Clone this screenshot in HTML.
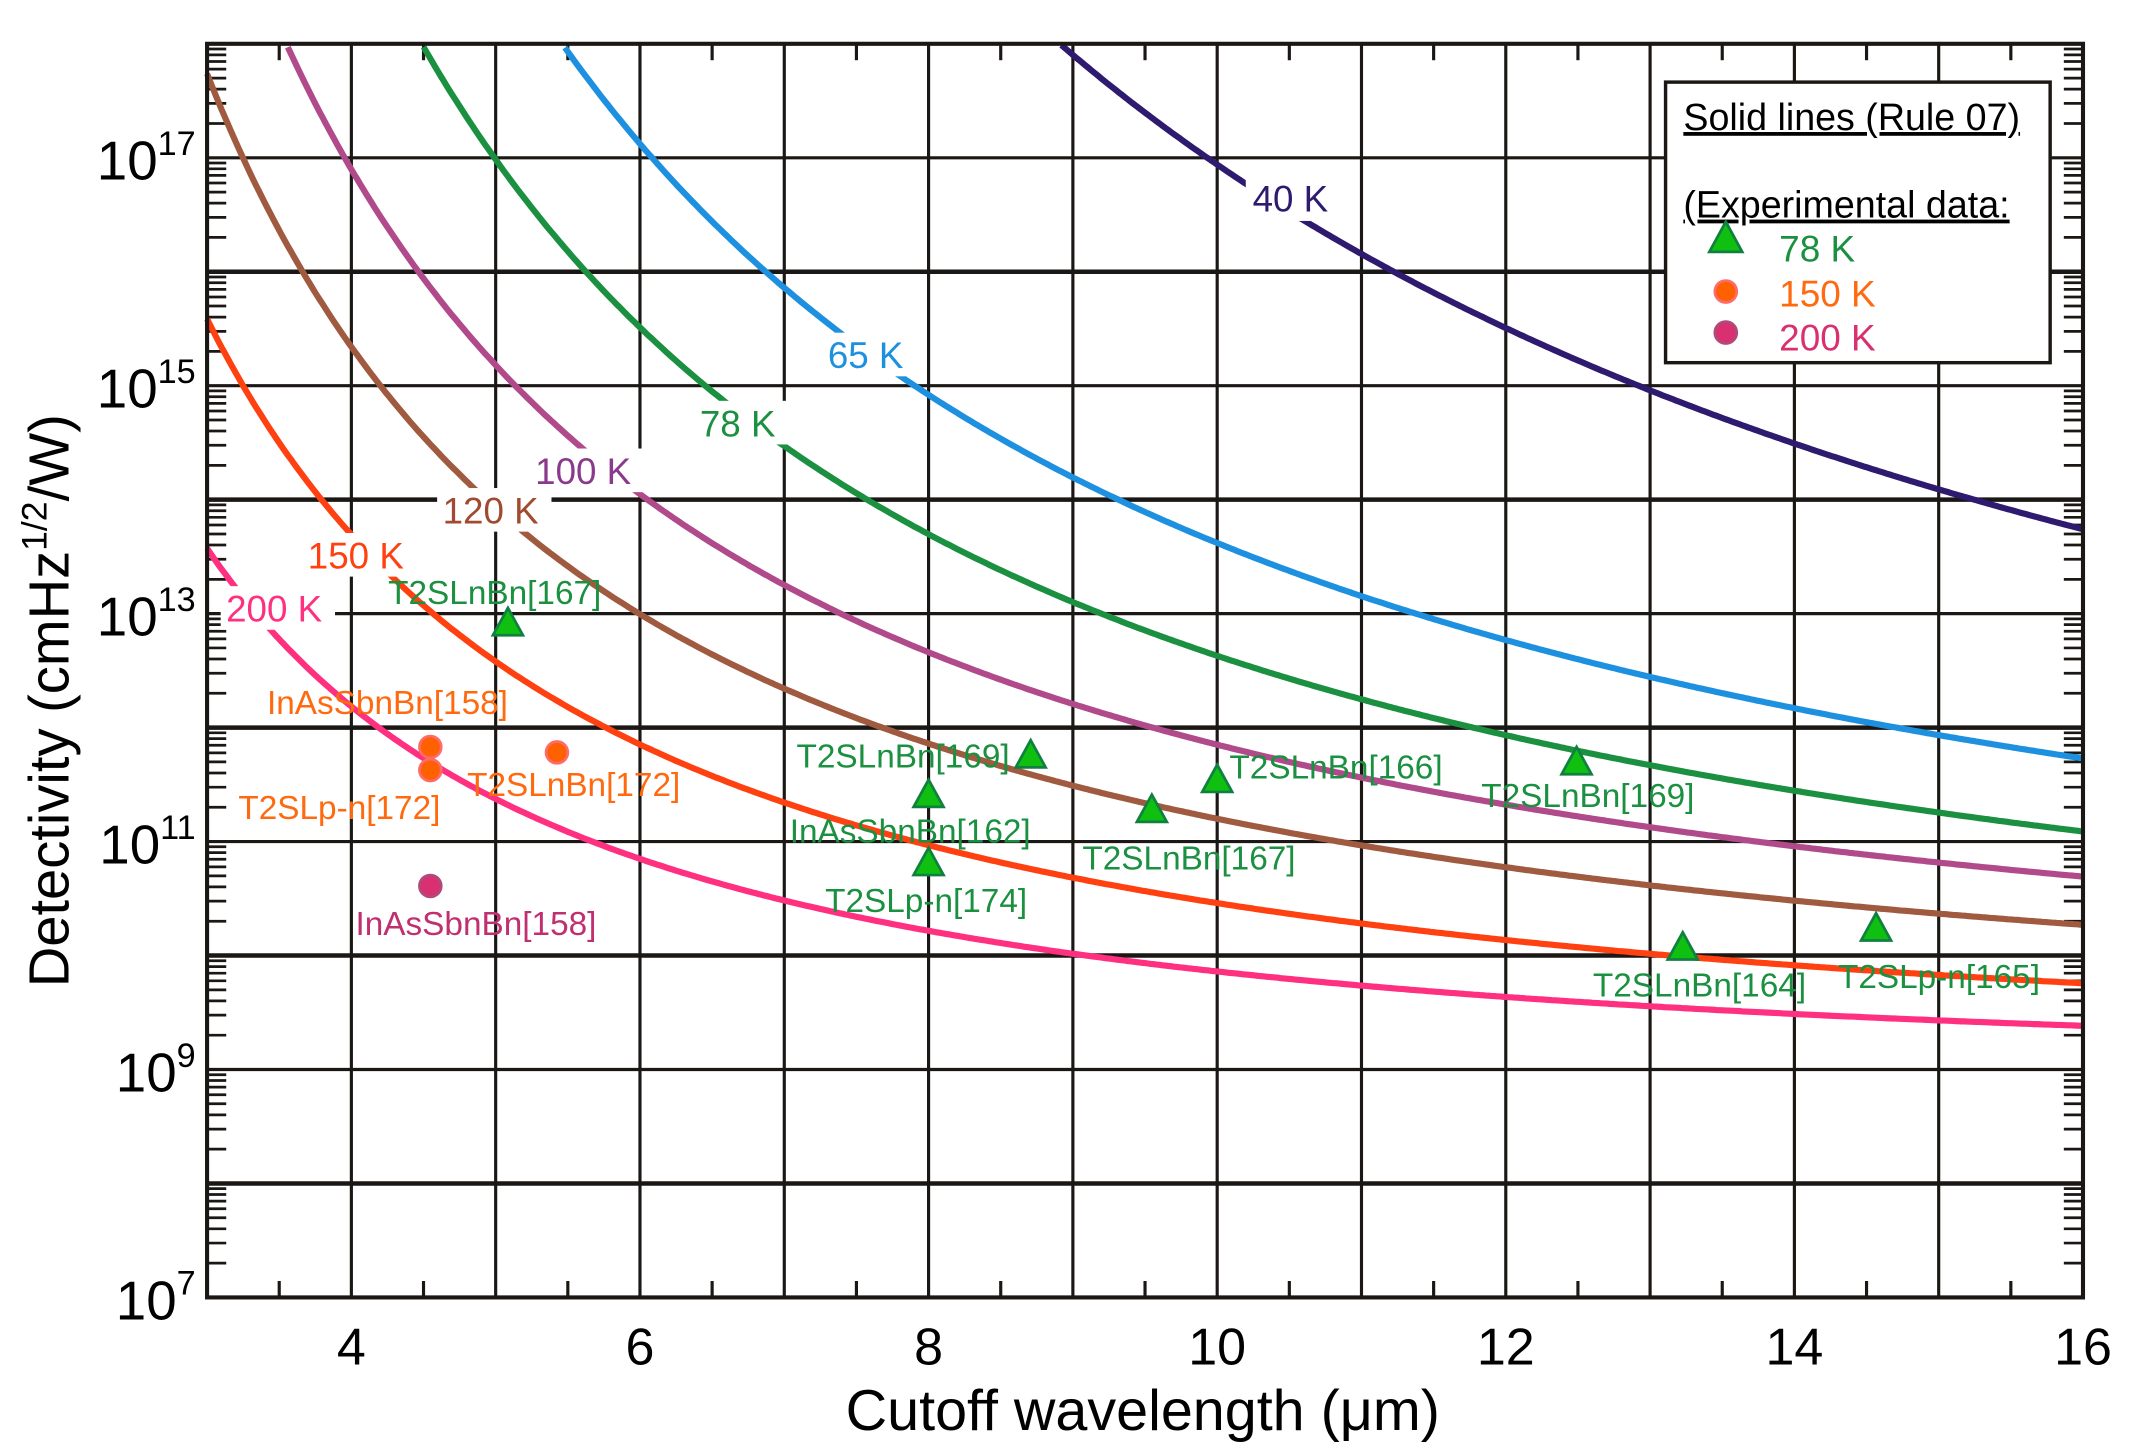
<!DOCTYPE html>
<html><head><meta charset="utf-8"><style>html,body{margin:0;padding:0;background:#fff}svg{display:block}</style></head>
<body>
<svg id="s" width="2135" height="1454" viewBox="0 0 1560 1062.4" preserveAspectRatio="none" xmlns="http://www.w3.org/2000/svg" font-family="Liberation Sans, Arial, sans-serif">
<rect width="1560" height="1063" fill="#fff"/>
<g id="grid" stroke="#1a1714"></g>
<g id="curves" fill="none" stroke-width="4.5"></g>
<g transform="translate(151.3,32) scale(0.9947,0.9957) translate(-152,-32)">
<g id="labels" font-size="27">
 <rect x="915" y="130" width="70" height="32" fill="#fff"/><text x="920" y="155" fill="#2e1a6e">40 K</text>
 <rect x="603" y="244" width="72" height="32" fill="#fff"/><text x="608" y="270" fill="#1e90e0">65 K</text>
 <rect x="510" y="294" width="70" height="32" fill="#fff"/><text x="514" y="320" fill="#1a9040">78 K</text>
 <rect x="389" y="329" width="84" height="32" fill="#fff"/><text x="393" y="355" fill="#8a3a8a">100 K</text>
 <rect x="321" y="358" width="84" height="32" fill="#fff"/><text x="325" y="384" fill="#a04a30">120 K</text>
 <rect x="222" y="391" width="84" height="32" fill="#fff"/><text x="226" y="417" fill="#ff4010">150 K</text>
 <rect x="162" y="430" width="84" height="32" fill="#fff"/><text x="166" y="456" fill="#ff3080">200 K</text>
</g>
<g id="pts"></g>
<g font-size="24.5" fill="#1a9040">
 <text x="285" y="443">T2SLnBn[167]</text>
 <text x="585" y="563">T2SLnBn[169]</text>
 <text x="580" y="618">InAsSbnBn[162]</text>
 <text x="606" y="669">T2SLp-n[174]</text>
 <text x="795" y="638">T2SLnBn[167]</text>
 <text x="903" y="571">T2SLnBn[166]</text>
 <text x="1088" y="592">T2SLnBn[169]</text>
 <text x="1170" y="731">T2SLnBn[164]</text>
 <text x="1350" y="725">T2SLp-n[165]</text>
</g>
<g font-size="24.5" fill="#ff6a10">
 <text x="196" y="524">InAsSbnBn[158]</text>
 <text x="175" y="601">T2SLp-n[172]</text>
 <text x="343" y="584">T2SLnBn[172]</text>
</g>
<text x="261" y="686" font-size="24.5" fill="#c03070">InAsSbnBn[158]</text>
</g>
<g>
 <rect x="1217" y="60" width="281" height="205" fill="#fff" stroke="#1a1714" stroke-width="2.5"/>
 <text x="1230" y="95" font-size="27.5" text-decoration="underline">Solid lines (Rule 07)</text>
 <text x="1230" y="159" font-size="27.5" text-decoration="underline">(Experimental data:</text>
 <polygon points="1261,162 1273,184 1249,184" fill="#10c010" stroke="#108040" stroke-width="2"/>
 <text x="1300" y="191" font-size="27" fill="#1a9040">78 K</text>
 <circle cx="1261" cy="213" r="8" fill="#ff6000" stroke="#ff6a6a" stroke-width="2"/>
 <text x="1300" y="224" font-size="27" fill="#ff6a10">150 K</text>
 <circle cx="1261" cy="243" r="8" fill="#d83070" stroke="#b04a7a" stroke-width="2"/>
 <text x="1300" y="256" font-size="27" fill="#d83070">200 K</text>
</g>
<g id="ax"></g>
<text x="835" y="1045" font-size="42" text-anchor="middle">Cutoff wavelength (μm)</text>
<text transform="translate(50,512) rotate(-90)" font-size="41" text-anchor="middle">Detectivity (cmHz<tspan font-size="26" dy="-16">1/2</tspan><tspan dy="16">/W)</tspan></text>
<rect x="151.3" y="32" width="1370.7" height="916" fill="none" stroke="#1a1714" stroke-width="3"/>
</svg>
<script>
var NS="http://www.w3.org/2000/svg";
var X0=151.3,X1=1522,Y0=948,YT=32;
function px(l){return X0+(l-3)*(X1-X0)/13;}
function py(d){return Y0-(d-7)*(Y0-YT)/11;}
function el(p,t,a){var e=document.createElementNS(NS,t);for(var k in a)e.setAttribute(k,a[k]);p.appendChild(e);return e;}
var g=document.getElementById('grid');
for(var l=4;l<16;l++)el(g,'line',{x1:px(l),x2:px(l),y1:YT,y2:Y0,'stroke-width':2.3});
for(var d=8;d<18;d++)el(g,'line',{x1:X0,x2:X1,y1:py(d),y2:py(d),'stroke-width':(d%2==0)?3.3:2.3});
for(var d=7;d<18;d++)for(var m=2;m<10;m++){var y=py(d+Math.log10(m));
 el(g,'line',{x1:X0,x2:X0+14,y1:y,y2:y,'stroke-width':2});el(g,'line',{x1:X1-14,x2:X1,y1:y,y2:y,'stroke-width':2});}
for(var l=3.5;l<16;l+=1){el(g,'line',{x1:px(l),x2:px(l),y1:Y0-12,y2:Y0,'stroke-width':2.3});el(g,'line',{x1:px(l),x2:px(l),y1:YT,y2:YT+12,'stroke-width':2.3});}
var ax=document.getElementById('ax');
for(var l=4;l<=16;l+=2){var t=el(ax,'text',{x:px(l),y:997,'text-anchor':'middle','font-size':38});t.textContent=l;}
[7,9,11,13,15,17].forEach(function(d){var t=el(ax,'text',{x:143,y:py(d)+16,'text-anchor':'end','font-size':40});
 t.innerHTML='10<tspan font-size="25" dy="-18">'+d+'</tspan>';});
function rule(l,T){var kT=8.617e-5*T;var J=8367*Math.exp(-1.162*1.24/(l*kT));var R=l/1.24;return Math.log10(R/Math.sqrt(2*1.602e-19*J));}
var C=[[40,'#2e1a6e',16.94],[65,'#1e90e0',13.62],[78,'#1a9040',12.63],[100,'#b04a8a',11.85],[120,'#a05a40',11.2],[150,'#ff4010',10.46],[200,'#ff3080',9.86]];
var cg=document.getElementById('curves');
C.forEach(function(c){var off=c[2]-rule(10,c[0]);var s='';
 for(var l=3;l<=16.001;l+=0.02){var v=rule(l,c[0])+off;if(v>18)continue;s+=(s?'L':'M')+px(l).toFixed(1)+','+py(v).toFixed(1);}
 el(cg,'path',{d:s,stroke:c[1]});});
var pg=document.getElementById('pts');
[[373,457],[757,554],[682,583],[682,633],[846,594],[894,572],[1158,559],[1236,695],[1378,681]].forEach(function(p){
 el(pg,'polygon',{points:(p[0])+','+(p[1]-11)+' '+(p[0]+11)+','+(p[1]+9)+' '+(p[0]-11)+','+(p[1]+9),fill:'#10c010',stroke:'#108040','stroke-width':2});});
[[316,548],[316,565],[409,552]].forEach(function(p){el(pg,'circle',{cx:p[0],cy:p[1],r:8,fill:'#ff6000',stroke:'#ff6a6a','stroke-width':2});});
el(pg,'circle',{cx:316,cy:650,r:8,fill:'#d83070',stroke:'#b04a7a','stroke-width':2});
</script>
</body></html>
